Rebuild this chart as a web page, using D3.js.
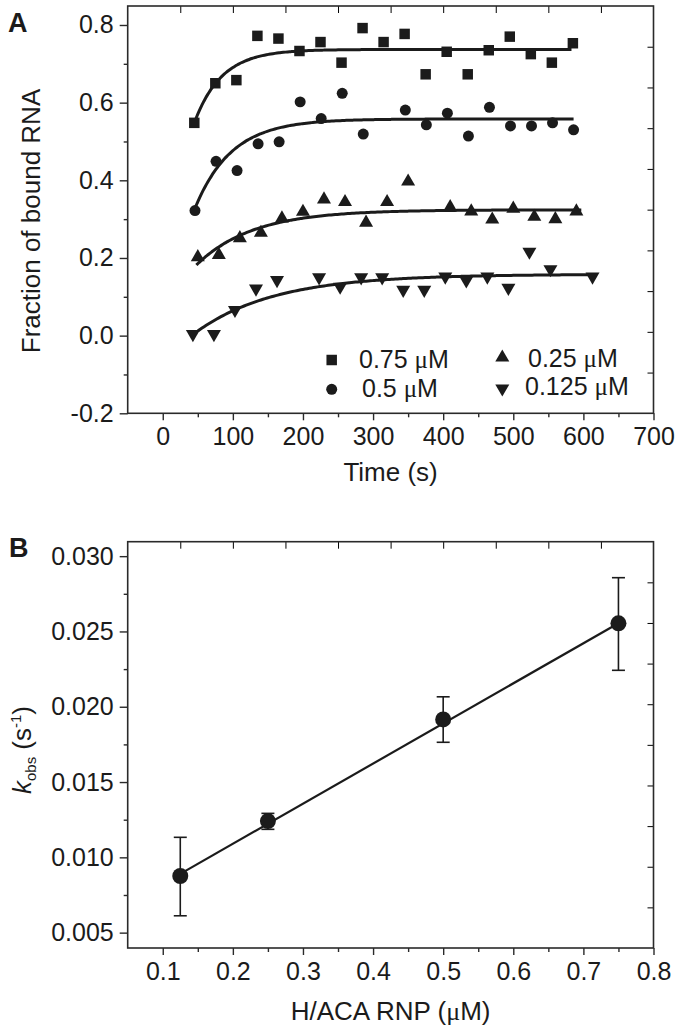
<!DOCTYPE html>
<html><head><meta charset="utf-8">
<script src="https://cdn.jsdelivr.net/npm/d3@7"></script>
<style>
html,body{margin:0;padding:0;background:#fff;}
text{font-family:"Liberation Sans",Arial,sans-serif;fill:#1b1b1b;}
</style></head>
<body><svg id="c" width="680" height="1031"></svg>
<script>
// ---------- Panel A data ----------
const seriesNames = ["0.75 μM","0.5 μM","0.25 μM","0.125 μM"];
const tSquare = [45,75,105,135,165,195,225,255,285,315,345,375,405,435,465,495,525,555,585];
const vSquare = [0.548,0.650,0.658,0.772,0.765,0.733,0.756,0.703,0.792,0.756,0.777,0.673,0.731,0.673,0.735,0.770,0.725,0.703,0.753];
const tCircle = [46,76,106,136,166,196,226,256,286,346,376,406,436,466,496,526,556,586];
const vCircle = [0.322,0.449,0.425,0.494,0.499,0.602,0.559,0.624,0.519,0.581,0.543,0.573,0.514,0.588,0.540,0.540,0.548,0.530];
const tTriUp = [50,80,110,140,170,200,230,260,290,320,350,410,440,470,500,530,560,590];
const vTriUp = [0.202,0.208,0.251,0.265,0.302,0.319,0.351,0.344,0.291,0.344,0.397,0.331,0.320,0.299,0.327,0.306,0.300,0.320];
const tTriDown = [43,73,103,133,163,223,253,283,313,343,373,403,433,463,493,523,553,613];
const vTriDown = [0.004,0.004,0.066,0.121,0.143,0.150,0.126,0.150,0.150,0.118,0.118,0.152,0.142,0.152,0.123,0.216,0.171,0.152];
// single-exponential fits (start, end, start value, plateau, k_obs)
const fitStart = [46,46,48,50];
const fitEnd = [585,588,598,618];
const fitY0 = [0.553,0.328,0.182,0.012];
const fitPlateau = [0.737,0.558,0.324,0.158];
const fitK = [0.0255,0.0192,0.0124,0.0088];
const xTicksA = [0,100,200,300,400,500,600,700];
const yTicksA = [-0.2,0.0,0.2,0.4,0.6,0.8];

// ---------- Panel B data ----------
const conc = [0.125,0.25,0.5,0.75];
const kobs = [0.00876,0.01241,0.01916,0.02554];
const errHi = [0.01133,0.01292,0.02066,0.02857];
const errLo = [0.00612,0.01186,0.01764,0.02242];
const lineX = [0.125,0.75];
const lineY = [0.0089,0.02555];
const xTicksB = [0.1,0.2,0.3,0.4,0.5,0.6,0.7,0.8];
const yTicksB = [0.005,0.010,0.015,0.020,0.025,0.030];

const ink = "#1b1b1b", axisCol = "#2a2a2a";
const svg = d3.select("#c");

function frame(g, x, y){
  const [x0,x1] = x.range(), [y0,y1] = y.range();
  // top & right independent axes, 10 equal intervals, inward ticks
  const tx = d3.scaleLinear([0,10],[x0,x1]);
  const ty = d3.scaleLinear([0,10],[y0,y1]);
  g.append("g").attr("transform",`translate(0,${y1})`)
    .call(d3.axisTop(tx).tickValues(d3.range(1,10)).tickSize(-7).tickFormat(""))
    .call(s=>s.select(".domain").remove());
  g.append("g").attr("transform",`translate(${x1},0)`)
    .call(d3.axisRight(ty).tickValues(d3.range(1,10)).tickSize(-6).tickFormat(""))
    .call(s=>s.select(".domain").remove());
  g.append("rect").attr("x",x0).attr("y",y1).attr("width",x1-x0).attr("height",y0-y1)
    .attr("fill","none").attr("stroke",axisCol).attr("stroke-width",1.6);
}
function styleAxis(s){
  s.selectAll(".tick line").attr("stroke",axisCol).attr("stroke-width",1.4);
  s.selectAll(".domain").remove();
  s.selectAll("text").attr("font-size",25).attr("fill",ink);
}

// ================= Panel A =================
const xA = d3.scaleLinear([-50,700],[127.7,653.5]);
const yA = d3.scaleLinear([-0.2,0.8489],[413.3,6]);
const gA = svg.append("g");

gA.append("g").attr("transform","translate(0,413.3)")
  .call(d3.axisBottom(xA).tickValues(d3.range(50,700,100)).tickSize(4).tickFormat("")).call(styleAxis);
gA.append("g").attr("transform","translate(0,413.3)")
  .call(d3.axisBottom(xA).tickValues(xTicksA).tickSize(7).tickPadding(7).tickFormat(d3.format("d"))).call(styleAxis);
gA.append("g").attr("transform","translate(127.7,0)")
  .call(d3.axisLeft(yA).tickValues(d3.range(-0.1,0.8,0.2)).tickSize(4).tickFormat("")).call(styleAxis);
gA.append("g").attr("transform","translate(127.7,0)")
  .call(d3.axisLeft(yA).tickValues(yTicksA).tickSize(8).tickPadding(6).tickFormat(d3.format(".1f"))).call(styleAxis);
gA.selectAll(".tick text").text(function(){return this.textContent.replace("−","-");});
frame(gA,xA,yA);

// fits
const lineA = d3.line().x(d=>xA(d[0])).y(d=>yA(d[1])).curve(d3.curveBasis);
fitK.forEach((k,i)=>{
  const pts = d3.range(fitStart[i],fitEnd[i]+0.1,3).map(t=>[t, fitPlateau[i]-(fitPlateau[i]-fitY0[i])*Math.exp(-k*(t-fitStart[i]))]);
  gA.append("path").attr("d",lineA(pts)).attr("fill","none").attr("stroke",ink).attr("stroke-width",3);
});

const symSq = d3.symbol(d3.symbolSquare,110)();
const symCi = d3.symbol(d3.symbolCircle,95)();
const symTr = d3.symbol(d3.symbolTriangle,85)();
function markers(ts,vs,path,rot){
  gA.append("g").selectAll("path").data(ts).join("path")
    .attr("d",path).attr("fill",ink)
    .attr("transform",(t,i)=>`translate(${xA(t)},${yA(vs[i])})${rot?" rotate(180)":""}`);
}
markers(tSquare,vSquare,symSq,false);
markers(tCircle,vCircle,symCi,false);
markers(tTriUp,vTriUp,symTr,false);
markers(tTriDown,vTriDown,symTr,true);

// legend
const leg = [
  {sym:symSq,rot:false,mx:331.7,my:360,tx:359,ty:368.3,name:seriesNames[0]},
  {sym:symCi,rot:false,mx:331.7,my:389.3,tx:362,ty:396.7,name:seriesNames[1]},
  {sym:symTr,rot:false,mx:502.3,my:357.5,tx:528,ty:366.7,name:seriesNames[2]},
  {sym:symTr,rot:true,mx:502.3,my:388.5,tx:525,ty:395,name:seriesNames[3]}
];
leg.forEach(l=>{
  gA.append("path").attr("d",l.sym).attr("fill",ink)
    .attr("transform",`translate(${l.mx},${l.my})${l.rot?" rotate(180)":""}`);
  const parts = l.name.split(" ");
  const t = gA.append("text").attr("x",l.tx).attr("y",l.ty).attr("font-size",25);
  t.append("tspan").text(parts[0]+" ");
  t.append("tspan").attr("font-family","'Liberation Serif',serif").text("μ");
  t.append("tspan").text("M");
});

gA.append("text").attr("x",390.6).attr("y",481).attr("text-anchor","middle").attr("font-size",26).text("Time (s)");
gA.append("text").attr("transform","translate(40,221) rotate(-90)").attr("text-anchor","middle").attr("font-size",26).text("Fraction of bound RNA");
gA.append("text").attr("x",8).attr("y",32).attr("font-size",27).attr("font-weight","bold").text("A");

// ================= Panel B =================
const xB = d3.scaleLinear([0.05,0.8],[127.7,653.5]);
const yB = d3.scaleLinear([0.00398,0.03096],[948,541.7]);
const gB = svg.append("g");

gB.append("g").attr("transform","translate(0,948)")
  .call(d3.axisBottom(xB).tickValues(d3.range(0.15,0.8,0.1)).tickSize(4).tickFormat("")).call(styleAxis);
gB.append("g").attr("transform","translate(0,948)")
  .call(d3.axisBottom(xB).tickValues(xTicksB).tickSize(7).tickPadding(7).tickFormat(d3.format(".1f"))).call(styleAxis);
gB.append("g").attr("transform","translate(127.7,0)")
  .call(d3.axisLeft(yB).tickValues(d3.range(0.0075,0.03,0.005)).tickSize(4).tickFormat("")).call(styleAxis);
gB.append("g").attr("transform","translate(127.7,0)")
  .call(d3.axisLeft(yB).tickValues(yTicksB).tickSize(8).tickPadding(6).tickFormat(d3.format(".3f"))).call(styleAxis);
frame(gB,xB,yB);

gB.append("path").attr("d",d3.line().x((d,i)=>xB(d)).y((d,i)=>yB(lineY[i]))(lineX))
  .attr("fill","none").attr("stroke",ink).attr("stroke-width",2.2);
const eb = gB.append("g").attr("stroke",ink).attr("stroke-width",1.6);
conc.forEach((c,i)=>{
  eb.append("line").attr("x1",xB(c)).attr("x2",xB(c)).attr("y1",yB(errHi[i])).attr("y2",yB(errLo[i]));
  [errHi[i],errLo[i]].forEach(v=>eb.append("line").attr("x1",xB(c)-6.5).attr("x2",xB(c)+6.5).attr("y1",yB(v)).attr("y2",yB(v)));
});
gB.append("g").selectAll("circle").data(conc).join("circle")
  .attr("cx",d=>xB(d)).attr("cy",(d,i)=>yB(kobs[i])).attr("r",8).attr("fill",ink);

gB.append("text").attr("x",390.6).attr("y",1020).attr("text-anchor","middle").attr("font-size",26)
  .call(t=>{t.append("tspan").text("H/ACA RNP (");t.append("tspan").attr("font-family","'Liberation Serif',serif").text("μ");t.append("tspan").text("M)");});
const yt = gB.append("text").attr("transform","translate(31,750) rotate(-90)").attr("text-anchor","middle").attr("font-size",26);
yt.append("tspan").attr("font-style","italic").text("k");
yt.append("tspan").attr("font-size",15).attr("dy",5).text("obs");
yt.append("tspan").attr("font-size",26).attr("dy",-5).text(" (s");
yt.append("tspan").attr("font-size",15).attr("dy",-10).text("-1");
yt.append("tspan").attr("font-size",26).attr("dy",10).text(")");
gB.append("text").attr("x",9).attr("y",557).attr("font-size",27).attr("font-weight","bold").text("B");
</script></body></html>
